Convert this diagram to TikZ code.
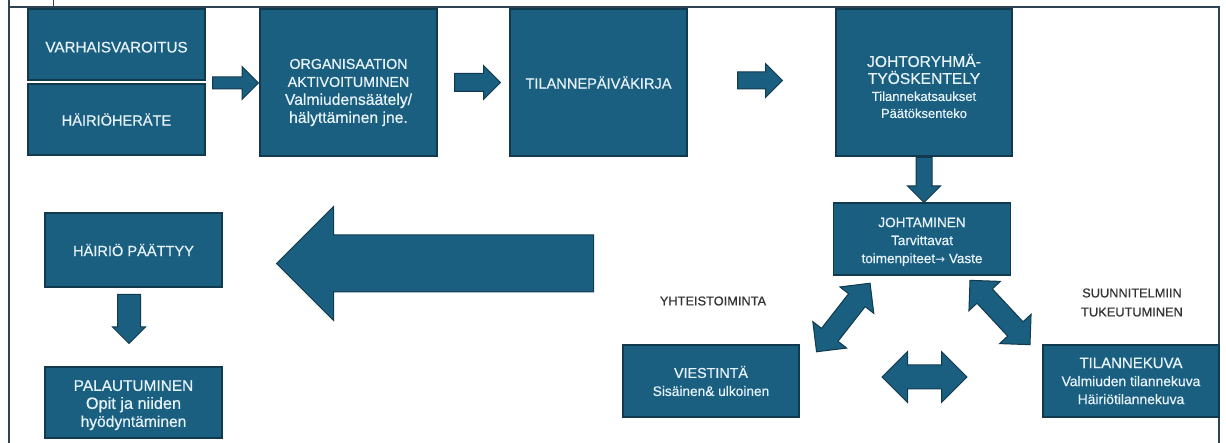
\documentclass[tikz,border=0pt]{standalone}
\usepackage{fontspec}
\setmainfont{Liberation Sans}[FakeBold=0.6]
\newfontfamily\nuolifontti{DejaVu Sans}
\usepackage{xcolor}
\usepackage{tikz}
\usetikzlibrary{positioning,shapes.arrows}

\definecolor{sini}{HTML}{1A5E80}
\definecolor{reuna}{HTML}{123A4E}
\definecolor{vaalea}{HTML}{E6F3FA}
\definecolor{kehys}{HTML}{2E4452}
\definecolor{harmaa}{HTML}{333333}

\newcommand{\koko}[1]{\fontsize{#1}{18}\selectfont}
\newcommand{\ylos}[1]{\rule{0pt}{#1pt}}

\tikzset{
  laatikko/.style={draw=reuna, line width=1.2pt, fill=sini, text=vaalea,
    align=center, inner sep=0pt, font=\koko{14.6}},
  nuoli/.style={single arrow, draw=reuna, line width=1pt, fill=sini,
    inner xsep=0pt, single arrow tip angle=90, anchor=tail},
  tuplanuoli/.style={double arrow, draw=reuna, line width=1pt, fill=sini,
    inner xsep=0pt, double arrow tip angle=90},
  selite/.style={text=harmaa, align=center, font={\fontsize{12.8}{19}\selectfont}}
}

\begin{document}
\begin{tikzpicture}[x=1pt,y=-1pt]
    \useasboundingbox (0,0) rectangle (1226,443);

    % kehys
    \draw[kehys, line width=1.5pt] (9,0) -- (9,443);
    \draw[kehys, line width=1.5pt] (9,7) -- (1219,7) -- (1219,443);
    \draw[kehys, line width=1pt] (53,0) -- (53,7);

    % ylarivi
    \node[laatikko, minimum width=177, minimum height=71, font=\koko{15.2}] (varo) at (116.5,44.5) {\ylos{16}VARHAISVAROITUS};
    \node[laatikko, minimum width=177, minimum height=71] (herate) at (116.5,119.5) {HÄIRIÖHERÄTE};
    \node[laatikko, minimum width=177, minimum height=147, font=\koko{14.3}] (org) at (348.5,82.5)
        {\ylos{30}ORGANISAATION\\AKTIVOITUMINEN\\{\koko{15.7}Valmiudensäätely/}\\{\koko{15.7}hälyttäminen jne.}};
    \node[laatikko, minimum width=177, minimum height=147] (paiva) at (598.5,82.5) {TILANNEPÄIVÄKIRJA};
    \node[laatikko, minimum width=176, minimum height=147, font={\fontsize{15.6}{17}\selectfont}] (jory) at (924,82.5)
        {\ylos{20}JOHTORYHMÄ-\\TYÖSKENTELY\\{\fontsize{13}{17}\selectfont Tilannekatsaukset}\\{\fontsize{13}{17}\selectfont Päätöksenteko}};

    % johtaminen ja sen ymparisto
    \node[laatikko, minimum width=177, minimum height=72, font=\koko{13.6}] (johto) at (922,239)
        {\ylos{15}JOHTAMINEN\\{\koko{13.6}Tarvittavat}\\{\koko{13.5}toimenpiteet{\nuolifontti\fontsize{12}{18}\selectfont →} Vaste}};
    \node[laatikko, minimum width=176, minimum height=72, font=\koko{14.3}] (viest) at (711,381)
        {VIESTINTÄ\\{\koko{13.7}Sisäinen\& ulkoinen}};
    \node[laatikko, minimum width=176, minimum height=72, font=\koko{15}] (tkuva) at (1131,381)
        {TILANNEKUVA\\{\koko{13.9}Valmiuden tilannekuva}\\{\koko{13.9}Häiriötilannekuva}};
    \node[selite] (yht) at (713,301) {YHTEISTOIMINTA};
    \node[selite] (suun) at (1132,302.5) {SUUNNITELMIIN\\TUKEUTUMINEN};

    % alarivi vasemmalla
    \node[laatikko, minimum width=177, minimum height=74] (paattyy) at (133.5,250) {HÄIRIÖ PÄÄTTYY};
    \node[laatikko, minimum width=177, minimum height=71, font=\koko{15.4}] (palaut) at (133.5,402.5)
        {\ylos{16}PALAUTUMINEN\\{\koko{16.3}Opit ja niiden}\\{\koko{15.6}hyödyntäminen}};

    % nuolet (kiinni hannasta)
    \node[nuoli, minimum height=46, inner ysep=5.5, single arrow head extend=10.5] (n1) at (212,83) {};
    \node[nuoli, minimum height=46, inner ysep=8.5, single arrow head extend=8] (n2) at (454,82.5) {};
    \node[nuoli, minimum height=45, inner ysep=8, single arrow head extend=8.5] (n3) at (737,80.5) {};
    \node[nuoli, minimum height=45, inner ysep=7.5, single arrow head extend=8.5, rotate=-90] (n4) at (924,157) {};
    \node[nuoli, minimum height=317, inner ysep=28, single arrow head extend=28.5, rotate=180] (n5) at (594,263.5) {};
    \node[nuoli, minimum height=49, inner ysep=11, single arrow head extend=5, rotate=-90] (n6) at (129,294) {};
    \node[tuplanuoli, minimum height=87, inner ysep=10, double arrow head extend=11, rotate=52] (n7) at (843.3,317.5) {};
    \node[tuplanuoli, minimum height=88, inner ysep=10, double arrow head extend=11, rotate=-47] (n8) at (1000,312.5) {};
    \node[tuplanuoli, minimum height=85, inner ysep=11.5, double arrow head extend=13.5] (n9) at (924.5,377) {};

\end{tikzpicture}
\end{document}
